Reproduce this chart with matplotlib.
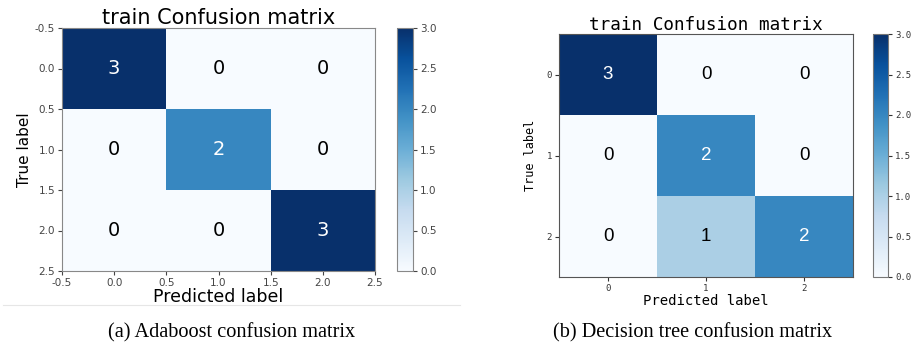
import numpy as np
import matplotlib
matplotlib.use("Agg")
import matplotlib.pyplot as plt
from matplotlib.lines import Line2D

# Confusion matrices (rows = true label, cols = predicted label)
classes = [0, 1, 2]
cm_adaboost = np.array([[3, 0, 0],
                        [0, 2, 0],
                        [0, 0, 3]])
cm_tree = np.array([[3, 0, 0],
                    [0, 2, 0],
                    [0, 1, 2]])
half_ticks = [-0.5, 0.0, 0.5, 1.0, 1.5, 2.0, 2.5]
cbar_ticks = [0.0, 0.5, 1.0, 1.5, 2.0, 2.5, 3.0]
title_text = "train Confusion matrix"
captions = ["(a) Adaboost confusion matrix", "(b) Decision tree confusion matrix"]

W, H = 919, 348
fig = plt.figure(figsize=(W / 100, H / 100), dpi=100)


def px_axes(x0, y0, x1, y1):
    return fig.add_axes([x0 / W, 1 - y1 / H, (x1 - x0) / W, (y1 - y0) / H])


def draw_cells(ax, cm, fs, family):
    thresh = cm.max() / 2.0
    for i in range(cm.shape[0]):
        for j in range(cm.shape[1]):
            ax.text(j, i, str(cm[i, j]), ha="center", va="center",
                    fontsize=fs, family=family,
                    color="white" if cm[i, j] > thresh else "black")


# ---- (a) Adaboost ----
ax1 = px_axes(62, 28, 375, 271)
im1 = ax1.imshow(cm_adaboost, cmap="Blues", vmin=0, vmax=3, aspect="auto",
                 interpolation="nearest")
ax1.set_xlim(-0.5, 2.5)
ax1.set_ylim(2.5, -0.5)
ax1.set_xticks(half_ticks)
ax1.set_yticks(half_ticks)
ax1.set_xticklabels([f"{t:.1f}" for t in half_ticks])
ax1.set_yticklabels([f"{t:.1f}" for t in half_ticks])
ax1.tick_params(labelsize=7.5, length=3, colors="#444444", pad=2)
for s in ax1.spines.values():
    s.set_color("#888888")
draw_cells(ax1, cm_adaboost, 14, "DejaVu Sans")
ax1.set_title(title_text, fontsize=15, pad=2)
ax1.set_xlabel("Predicted label", fontsize=12.5, labelpad=0)
ax1.set_ylabel("True label", fontsize=11, labelpad=2)

cax1 = px_axes(397, 28, 413, 271)
cb1 = fig.colorbar(im1, cax=cax1, ticks=cbar_ticks)
cb1.ax.tick_params(labelsize=7.5, length=3, colors="#444444", pad=2)
cb1.outline.set_edgecolor("#888888")

# ---- (b) Decision tree ----
mono = "DejaVu Sans Mono"
ax2 = px_axes(559, 34, 853, 277)
im2 = ax2.imshow(cm_tree, cmap="Blues", vmin=0, vmax=3, aspect="auto",
                 interpolation="nearest")
ax2.set_xticks(classes)
ax2.set_yticks(classes)
ax2.set_xticklabels([str(c) for c in classes], family=mono)
ax2.set_yticklabels([str(c) for c in classes], family=mono)
ax2.tick_params(labelsize=6.5, length=3, colors="#333333", pad=2)
for s in ax2.spines.values():
    s.set_color("#555555")
draw_cells(ax2, cm_tree, 13.5, "Liberation Sans")
ax2.set_title(title_text, fontsize=12.7, family=mono, pad=3)
ax2.set_xlabel("Predicted label", fontsize=10, family=mono, labelpad=1)
ax2.set_ylabel("True label", fontsize=8.5, family=mono, labelpad=7)

cax2 = px_axes(873, 34, 888, 277)
cb2 = fig.colorbar(im2, cax=cax2, ticks=cbar_ticks)
cb2.ax.set_yticklabels([f"{t:.1f}" for t in cbar_ticks], family=mono)
cb2.ax.tick_params(labelsize=6.5, length=3, colors="#333333", pad=2)
cb2.outline.set_edgecolor("#777777")

# separator under the left panel
fig.add_artist(Line2D([3 / W, 460 / W], [1 - 305 / H, 1 - 305 / H],
                      color="#e6e6e6", lw=0.8, transform=fig.transFigure))

# sub-figure captions
fig.text(232 / W, 1 - 333 / H, captions[0], ha="center", va="center",
         fontsize=14.6, family="Liberation Serif")
fig.text(693 / W, 1 - 333 / H, captions[1], ha="center", va="center",
         fontsize=14.6, family="Liberation Serif")

fig.savefig("out.png", dpi=100)
